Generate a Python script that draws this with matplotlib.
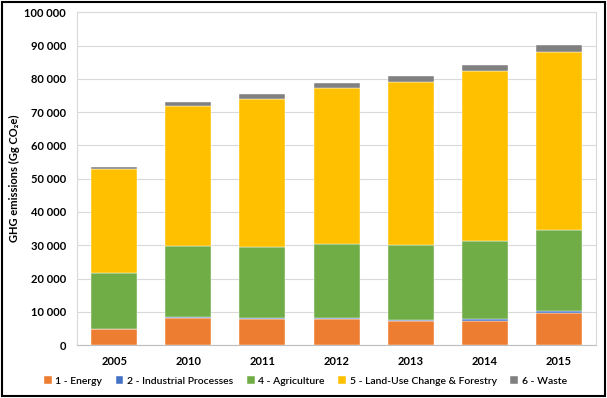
import matplotlib
matplotlib.use("Agg")
import matplotlib.pyplot as plt
from matplotlib.patches import Rectangle
from matplotlib.ticker import FuncFormatter, MultipleLocator

years = ["2005", "2010", "2011", "2012", "2013", "2014", "2015"]
energy = [4800, 8000, 7700, 7700, 7100, 7300, 9600]
ippu = [150, 300, 500, 500, 400, 400, 500]
agriculture = [16650, 21500, 21400, 22300, 22600, 23500, 24400]
lucf = [31200, 42200, 44400, 46800, 48900, 51100, 53600]
waste = [600, 1200, 1500, 1600, 1800, 1900, 2200]

series = [
    ("1 - Energy", energy, "#ED7D31"),
    ("2 - Industrial Processes", ippu, "#4472C4"),
    ("4 - Agriculture", agriculture, "#70AD47"),
    ("5 - Land-Use Change & Forestry", lucf, "#FFC000"),
    ("6 - Waste", waste, "#808080"),
]

plt.rcParams['font.family'] = ['Lato', 'DejaVu Sans']

fig = plt.figure(figsize=(6.07, 3.98), dpi=100)
ax = fig.add_axes([0.127, 0.133, 0.855, 0.836])

x = list(range(len(years)))
bottom = [0] * len(years)
for name, vals, color in series:
    ax.bar(x, vals, bottom=bottom, width=0.62, color=color, label=name,
           edgecolor="white", linewidth=0.3, zorder=3)
    bottom = [b + v for b, v in zip(bottom, vals)]

ax.set_xlim(-0.5, len(years) - 0.5)
ax.set_ylim(0, 100000)
ax.yaxis.set_major_locator(MultipleLocator(10000))
ax.yaxis.set_major_formatter(FuncFormatter(lambda v, p: f"{int(v):,}".replace(",", " ")))
ax.set_xticks(x)
ax.set_xticklabels(years)
ax.grid(axis="y", color="#D9D9D9", linewidth=0.8, zorder=0)
ax.tick_params(axis="both", length=0, labelsize=8)
for lab in ax.get_xticklabels() + ax.get_yticklabels():
    lab.set_fontweight("bold")
ax.tick_params(axis="y", pad=8)
ax.tick_params(axis="x", pad=8)
for side in ["top", "right", "left"]:
    ax.spines[side].set_color("#D9D9D9")
    ax.spines[side].set_linewidth(0.8)
ax.spines["bottom"].set_color("#BFBFBF")
ax.spines["bottom"].set_linewidth(0.8)

ax.set_ylabel("GHG emissions (Gg CO\u2082e)", fontsize=8, fontweight="bold", labelpad=3)

fig.legend(loc="center", bbox_to_anchor=(0.503, 0.043), ncol=5, frameon=False,
           prop={"size": 7.5, "weight": "semibold"}, handlelength=0.75, handleheight=0.75,
           handletextpad=0.35, columnspacing=1.3)

fig.patches.append(Rectangle((0.004, 0.006), 0.992, 0.988, transform=fig.transFigure,
                             fill=False, edgecolor="black", linewidth=1.5))

fig.savefig("out.png", dpi=100)
